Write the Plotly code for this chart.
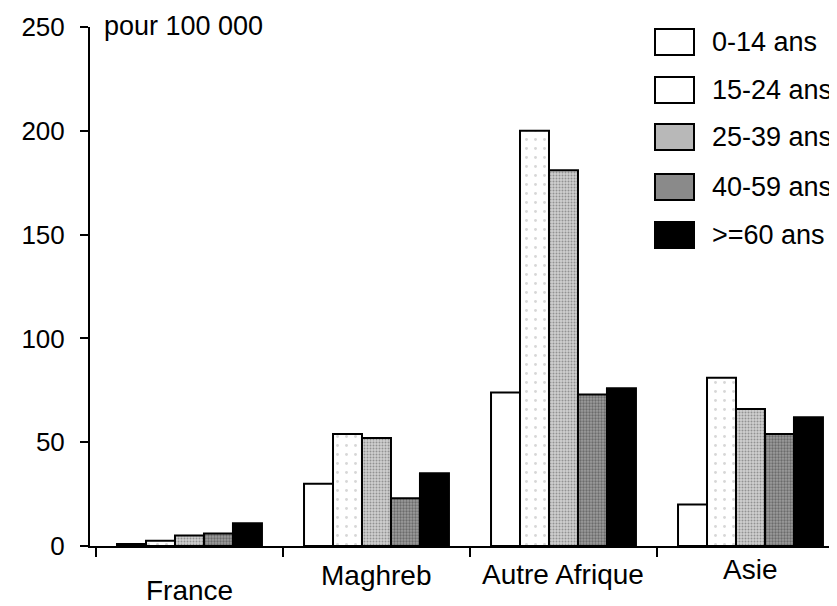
import plotly.graph_objects as go

# ---- data ----
categories = ["France", "Maghreb", "Autre Afrique", "Asie"]
age_groups = ["0-14 ans", "15-24 ans", "25-39 ans", "40-59 ans", ">=60 ans"]
v_0_14 = [1, 30, 74, 20]
v_15_24 = [2.5, 54, 200, 81]
v_25_39 = [5, 52, 181, 66]
v_40_59 = [6, 23, 73, 54]
v_60 = [11, 35, 76, 62]
y_ticks = [0, 50, 100, 150, 200, 250]
unit_label = "pour 100 000"

series = [v_0_14, v_15_24, v_25_39, v_40_59, v_60]

# ---- layout geometry (page body adds an 8 px offset) ----
OFF = 8
W, H = 837 - OFF, 606 - OFF
ML, MT = 90 - OFF, 27 - OFF
PH = 519
MB = H - MT - PH
MR = 0
PW = W - ML - MR
FONT = "Liberation Sans, Arial, Helvetica, sans-serif"
FS = 26

styles = [
    dict(color="white", pattern=None, swatch="white"),
    dict(color="white", pattern=dict(shape=".", fgcolor="#b0b0b0", bgcolor="white", size=9, solidity=0.08), swatch="white"),
    dict(color="#c8c8c8", pattern=dict(shape=".", fgcolor="#555555", bgcolor="#cfcfcf", size=3, solidity=0.35), swatch="#b8b8b8"),
    dict(color="#959595", pattern=dict(shape=".", fgcolor="#3a3a3a", bgcolor="#9c9c9c", size=3, solidity=0.45), swatch="#8a8a8a"),
    dict(color="black", pattern=None, swatch="black"),
]

def px_x(px):
    return (px - OFF - ML) / PW

def px_y(py):
    return (MT + PH - (py - OFF)) / PH

fig = go.Figure()
for name, vals, st in zip(age_groups, series, styles):
    marker = dict(color=st["color"], line=dict(color="black", width=2))
    if st["pattern"] is not None:
        marker["pattern"] = st["pattern"]
    fig.add_trace(go.Bar(x=categories, y=vals, name=name, marker=marker, showlegend=False))

# category labels (placed individually as in the original)
label_shift = [-27, -12, -11, -6]
annotations = []
for cat, sh in zip(categories, label_shift):
    annotations.append(dict(x=cat, y=0, xref="x", yref="y", text=cat, showarrow=False,
                            yanchor="top", yshift=sh, font=dict(size=28, color="black", family=FONT)))

# unit label
annotations.append(dict(x=px_x(102), y=px_y(26), xref="paper", yref="paper", text=unit_label,
                        showarrow=False, xanchor="left", yanchor="middle",
                        font=dict(size=27, color="black", family=FONT)))

# legend drawn by hand (large swatches as in the original)
shapes = []
row_y = [42, 90, 137, 187, 235]
for name, st, cy in zip(age_groups, styles, row_y):
    shapes.append(dict(type="rect", xref="paper", yref="paper",
                       x0=px_x(655), x1=px_x(694), y0=px_y(cy + 13), y1=px_y(cy - 13),
                       fillcolor=st["swatch"], line=dict(color="black", width=2)))
    annotations.append(dict(x=px_x(710), y=px_y(cy), xref="paper", yref="paper", text=name,
                            showarrow=False, xanchor="left", yanchor="middle",
                            font=dict(size=27, color="black", family=FONT)))

fig.update_layout(
    width=W, height=H,
    margin=dict(l=ML, r=MR, t=MT, b=MB, pad=0),
    paper_bgcolor="white", plot_bgcolor="white",
    barmode="group", bargap=0.225, bargroupgap=0,
    font=dict(family=FONT, size=FS, color="black"),
    shapes=shapes, annotations=annotations,
    showlegend=False,
)
fig.update_xaxes(
    range=[-0.532, -0.532 + PW / 187.0], showline=True, linecolor="black", linewidth=2,
    ticks="outside", tickson="boundaries", ticklen=9, tickwidth=2, tickcolor="black",
    showticklabels=False, showgrid=False, zeroline=False,
)
fig.update_yaxes(
    range=[0, 250], tickvals=y_ticks, showline=True, linecolor="black", linewidth=2,
    ticks="outside", ticklen=8, tickwidth=2, tickcolor="black", ticklabelstandoff=10,
    showgrid=False, zeroline=False, tickfont=dict(size=FS, family=FONT, color="black"),
)

fig.write_html("out.html")
